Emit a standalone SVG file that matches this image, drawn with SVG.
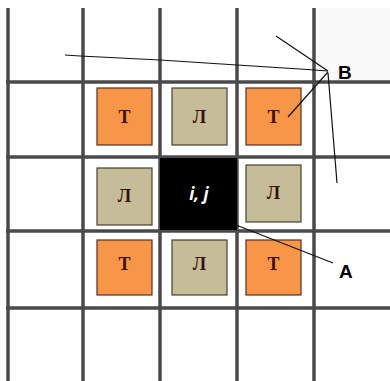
<svg xmlns="http://www.w3.org/2000/svg" width="390" height="381" viewBox="0 0 390 381">
<style>
.grid line{stroke:#4a4a4a;stroke-width:3.5;stroke-linecap:butt}
.t rect{fill:#f79646;stroke:#5a3020;stroke-width:1.2}
.l rect{fill:#c4bd97;stroke:#4a4030;stroke-width:1.2}
.lt{font-family:"Liberation Serif",serif;font-weight:bold;font-size:18px;fill:#3a1010;text-anchor:middle}
.lab{font-family:"Liberation Sans",Arial,sans-serif;font-weight:bold;font-size:19px;fill:#000}
.conn line,.conn polyline{stroke:#111;stroke-width:1.2;fill:none}
</style>
<rect width="390" height="381" fill="#fff"/>
<rect x="316" y="8" width="74" height="73" fill="#f9f9f9"/>
<g class="grid">
<line x1="8" y1="8" x2="8" y2="381"/>
<line x1="83" y1="8" x2="83" y2="381"/>
<line x1="160" y1="8" x2="160" y2="381"/>
<line x1="237" y1="8" x2="237" y2="381"/>
<line x1="314" y1="8" x2="314" y2="381"/>
<line x1="6" y1="82" x2="390" y2="82"/>
<line x1="6" y1="157" x2="390" y2="157"/>
<line x1="6" y1="231" x2="390" y2="231"/>
<line x1="6" y1="308" x2="390" y2="308"/>
</g>
<g id="n-t1" class="t"><rect x="97" y="88" width="55" height="57"/><text class="lt" x="124.5" y="123">Т</text></g>
<g id="n-l1" class="l"><rect x="172" y="88" width="55" height="57"/><text class="lt" x="199.5" y="123">Л</text></g>
<g id="n-t2" class="t"><rect x="246" y="88" width="55" height="57"/><text class="lt" x="273.5" y="123">Т</text></g>
<g id="n-l2" class="l"><rect x="97" y="168" width="55" height="57"/><text class="lt" x="124.5" y="202">Л</text></g>
<g id="n-ij"><rect x="160" y="158" width="77" height="72" fill="#000"/><text x="199" y="200" font-family="'Open Sans',sans-serif" font-weight="bold" font-style="italic" font-size="17" fill="#fff" text-anchor="middle">i, j</text></g>
<g id="n-l3" class="l"><rect x="246" y="165" width="55" height="57"/><text class="lt" x="273.5" y="199">Л</text></g>
<g id="n-t3" class="t"><rect x="97" y="240" width="55" height="55"/><text class="lt" x="124.5" y="270">Т</text></g>
<g id="n-l4" class="l"><rect x="172" y="240" width="55" height="55"/><text class="lt" x="199.5" y="270">Л</text></g>
<g id="n-t4" class="t"><rect x="246" y="240" width="55" height="55"/><text class="lt" x="273.5" y="270">Т</text></g>
<g class="conn">
<polyline points="65,55 80,56 160,60 237,65 300,69 328,71"/>
<line x1="276" y1="36" x2="328" y2="71"/>
<line x1="328" y1="72" x2="288" y2="117"/>
<line x1="328" y1="73" x2="337" y2="183"/>
<line x1="236" y1="225" x2="333" y2="263"/>
</g>
<g id="n-B"><text class="lab" x="338" y="79">B</text></g>
<g id="n-A"><text class="lab" x="339" y="278">A</text></g>
</svg>
